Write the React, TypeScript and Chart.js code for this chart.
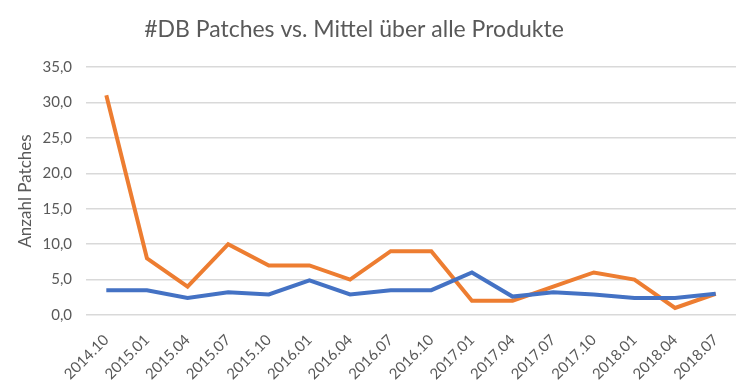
import React, { useEffect, useRef } from "react";
import { Chart, registerables } from "chart.js";

Chart.register(...registerables);

const categories = [
  "2014.10", "2015.01", "2015.04", "2015.07", "2015.10", "2016.01", "2016.04", "2016.07",
  "2016.10", "2017.01", "2017.04", "2017.07", "2017.10", "2018.01", "2018.04", "2018.07",
];
const dbPatches = [31, 8, 4, 10, 7, 7, 5, 9, 9, 2, 2, 4, 6, 5, 1, 3];
const mittelAlle = [3.5, 3.5, 2.4, 3.2, 2.9, 4.9, 2.9, 3.5, 3.5, 6, 2.6, 3.2, 2.9, 2.4, 2.4, 3.0];
const yTicks = [0, 5, 10, 15, 20, 25, 30, 35];
const chartTitle = "#DB Patches vs. Mittel über alle Produkte";

const FONT = "Lato, 'Open Sans', sans-serif";
const TEXT = "#595959";

const titlePlugin = {
  id: "offsetTitle",
  afterDraw(chart: any) {
    const ctx = chart.ctx;
    ctx.save();
    ctx.font = `23px ${FONT}`;
    ctx.fillStyle = TEXT;
    ctx.textAlign = "center";
    ctx.textBaseline = "middle";
    ctx.fillText(chartTitle, 354, 30);
    ctx.restore();
  },
};

export default function App() {
  const ref = useRef<HTMLCanvasElement | null>(null);
  useEffect(() => {
    document.body.style.margin = "0";
    const ctx = ref.current!.getContext("2d")!;
    const chart = new Chart(ctx, {
      type: "line",
      data: {
        labels: categories,
        datasets: [
          {
            label: "Mittel über alle Produkte",
            data: mittelAlle,
            borderColor: "#4472C4",
            backgroundColor: "#4472C4",
            borderWidth: 4,
            pointRadius: 0,
            tension: 0,
          },
          {
            label: "#DB Patches",
            data: dbPatches,
            borderColor: "#ED7D31",
            backgroundColor: "#ED7D31",
            borderWidth: 4,
            pointRadius: 0,
            tension: 0,
          },
        ],
      },
      plugins: [titlePlugin],
      options: {
        animation: false,
        responsive: false,
        maintainAspectRatio: false,
        layout: { padding: { left: 0, right: 8, top: 67, bottom: 0 } },
        plugins: {
          legend: { display: false },
          tooltip: { enabled: false },
          title: { display: false },
        },
        scales: {
          x: {
            offset: true,
            grid: { display: false },
            border: { display: false },
            ticks: {
              color: TEXT,
              font: { family: FONT, size: 15 },
              maxRotation: 45,
              minRotation: 45,
              autoSkip: false,
              padding: 8,
            },
            afterFit: (s: any) => {
              s.height = 72;
            },
          },
          y: {
            min: 0,
            max: 35,
            afterBuildTicks: (s: any) => {
              s.ticks = yTicks.map((v) => ({ value: v }));
            },
            grid: { color: "#D9D9D9", lineWidth: 1.5, drawTicks: false },
            border: { display: false },
            ticks: {
              color: TEXT,
              font: { family: FONT, size: 15 },
              padding: 14,
              callback: (v: any) => Number(v).toFixed(1).replace(".", ","),
            },
            title: {
              display: true,
              text: "Anzahl Patches",
              color: TEXT,
              font: { family: FONT, size: 17 },
              padding: { top: 15, bottom: 4 },
            },
            afterFit: (s: any) => {
              s.width = 86;
            },
          },
        },
      },
    });
    return () => chart.destroy();
  }, []);
  return <canvas ref={ref} width={744} height={387} style={{ display: "block" }} />;
}
